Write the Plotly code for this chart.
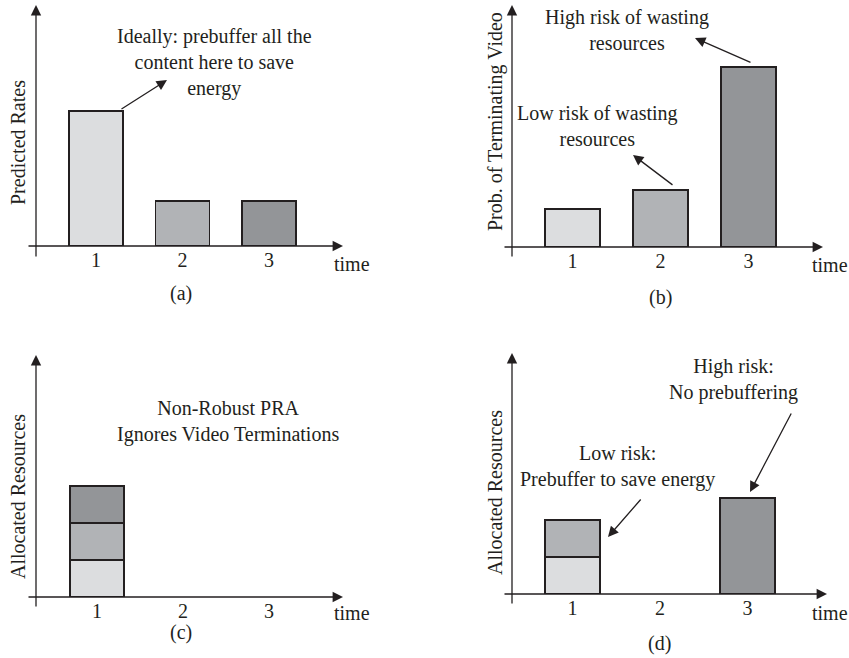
import plotly.graph_objects as go

# ---------------- data ----------------
time_slots = [1, 2, 3]
tick_labels = ["1", "2", "3"]
predicted_rates = [3.0, 1.0, 1.0]            # (a)
termination_prob = [0.2, 0.3, 0.95]          # (b)
nonrobust_light = [1.0]                       # (c) content of slot 1, sent at t=1
nonrobust_medium = [1.0]                      # (c) content of slot 2, sent at t=1
nonrobust_dark = [1.0]                        # (c) content of slot 3, sent at t=1
robust_light = [1.0]                          # (d) slot 1 content at t=1
robust_medium = [1.0]                         # (d) slot 2 content at t=1
robust_dark = [2.6]                           # (d) slot 3 content at t=3

W, H = 849, 658
LIGHT, MED, DARK = "#dcdddf", "#b1b3b6", "#939598"
INK = "#231f20"
FONT = "Liberation Serif"
FS = 20

# pixel geometry of each panel
panels = {
    "a": dict(ylpx=36, x1=96, unit=86.5, tip=343, xstart=27, base=246, dtop=40, yscale=45,
              ytop=5, ybot=258, time=(352, 264), lab=("(a)", 181, 293),
              title=("Predicted Rates", 18, 143)),
    "b": dict(ylpx=512, x1=572.5, unit=88, tip=823, xstart=503, base=247, dtop=0, yscale=189.5,
              ytop=5, ybot=258, time=(830, 265), lab=("(b)", 660, 297),
              title=("Prob. of Terminating Video", 495, 122)),
    "c": dict(ylpx=36, x1=97, unit=86, tip=343, xstart=27, base=597, dtop=397, yscale=37,
              ytop=355, ybot=608, time=(352, 613), lab=("(c)", 181, 632),
              title=("Allocated Resources", 18, 497)),
    "d": dict(ylpx=512, x1=572.5, unit=87.5, tip=827, xstart=503, base=594, dtop=392, yscale=37,
              ytop=353, ybot=605, time=(830, 613), lab=("(d)", 659, 643),
              title=("Allocated Resources", 495, 493)),
}
order = ["a", "b", "c", "d"]


def X(px):
    return px / W


def Y(py):
    return 1 - py / H


def xd(p, px):
    return 1 + (px - p["x1"]) / p["unit"]


def yd(p, py):
    return (p["base"] - py) / p["yscale"]


fig = go.Figure()
bar_w = 0.625
line = dict(color=INK, width=1.5)


def bar(x, y, color, k):
    sfx = "" if k == 0 else str(k + 1)
    return go.Bar(x=x, y=y, width=bar_w, marker=dict(color=color, line=line),
                  xaxis="x" + sfx, yaxis="y" + sfx, showlegend=False, hoverinfo="skip")


fig.add_trace(bar(time_slots, predicted_rates, [LIGHT, MED, DARK], 0))
fig.add_trace(bar(time_slots, termination_prob, [LIGHT, MED, DARK], 1))
fig.add_trace(bar([1], nonrobust_light, LIGHT, 2))
fig.add_trace(bar([1], nonrobust_medium, MED, 2))
fig.add_trace(bar([1], nonrobust_dark, DARK, 2))
fig.add_trace(bar([1], robust_light, LIGHT, 3))
fig.add_trace(bar([1], robust_medium, MED, 3))
fig.add_trace(bar([3], robust_dark, DARK, 3))

txtfont = dict(family=FONT, size=FS, color=INK)


def arrow(head, tail):
    return dict(showarrow=True, arrowhead=2, arrowsize=1.6, arrowwidth=1.3, arrowcolor=INK,
                text="", xref="paper", yref="paper", axref="pixel", ayref="pixel",
                x=X(head[0]), y=Y(head[1]), ax=tail[0] - head[0], ay=tail[1] - head[1],
                standoff=0, startstandoff=0)


def label(txt, px, py, angle=0):
    return dict(text=txt, x=X(px), y=Y(py), xref="paper", yref="paper", showarrow=False,
                align="center", xanchor="center", yanchor="middle", textangle=angle,
                font=txtfont)


annotations = []
layout_axes = {}
for k, key in enumerate(order):
    p = panels[key]
    sfx = "" if k == 0 else str(k + 1)
    xr = [xd(p, p["ylpx"]), xd(p, p["tip"])]
    yr = [0, yd(p, p["dtop"])]
    layout_axes["xaxis" + sfx] = dict(
        domain=[X(p["ylpx"]), X(p["tip"])], range=xr, anchor="y" + sfx,
        tickvals=time_slots, ticktext=tick_labels, ticks="", showline=False, showgrid=False,
        zeroline=False, tickfont=txtfont, automargin=False, fixedrange=True)
    layout_axes["yaxis" + sfx] = dict(
        domain=[Y(p["base"]), Y(p["dtop"])], range=yr, anchor="x" + sfx,
        showticklabels=False, ticks="", showline=False, showgrid=False, zeroline=False,
        automargin=False, fixedrange=True)
    annotations.append(arrow((p["tip"], p["base"]), (p["xstart"], p["base"])))
    annotations.append(arrow((p["ylpx"], p["ytop"]), (p["ylpx"], p["ybot"])))
    annotations.append(label("time", *p["time"]))
    annotations.append(label(*p["lab"]))
    t, tx, ty = p["title"]
    annotations.append(label(t, tx, ty, angle=-90))

# callout texts and arrows (pixel positions)
callouts = [
    ("Ideally: prebuffer all the<br>content here to save<br>energy", (214, 62.5), (120, 110), (167, 80)),
    ("High risk of wasting<br>resources", (627, 30), (752, 63), (695, 38)),
    ("Low risk of wasting<br>resources", (597, 126.5), (674, 186), (633, 155)),
    ("Non-Robust PRA<br>Ignores Video Terminations", (228, 421.5), None, None),
    ("High risk:<br>No prebuffering", (733, 379.5), (792, 412), (750, 492)),
    ("Low risk:<br>Prebuffer to save energy", (617, 466.5), (642, 498), (608, 537)),
]
for txt, (tx, ty), tail, head in callouts:
    annotations.append(label(txt, tx, ty))
    if tail is not None:
        annotations.append(arrow(head, tail))

fig.update_layout(
    width=W, height=H, margin=dict(l=0, r=0, t=0, b=0, autoexpand=False),
    paper_bgcolor="white", plot_bgcolor="white", barmode="stack", bargap=0,
    annotations=annotations, showlegend=False, **layout_axes)

fig.write_html(
    "out.html",
    config={"displayModeBar": False, "staticPlot": True},
    post_script="document.body.style.margin='0';document.body.style.overflow='hidden';",
)
